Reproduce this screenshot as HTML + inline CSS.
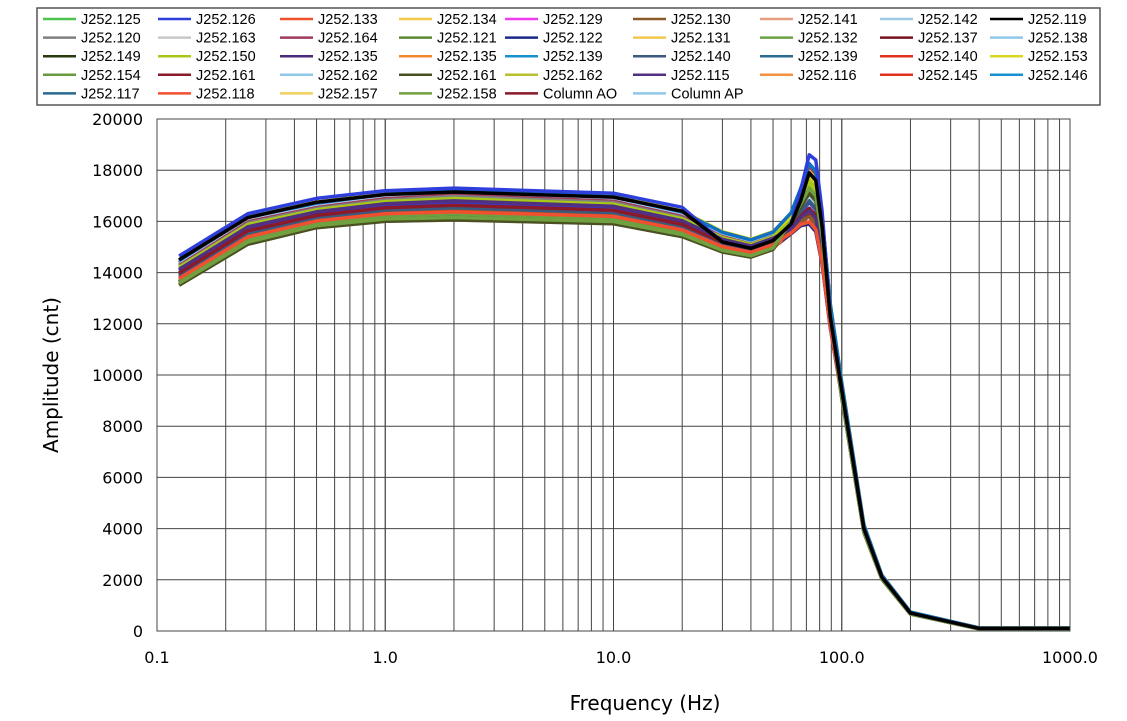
<!DOCTYPE html>
<html><head><meta charset="utf-8"><style>
body{margin:0;background:#fff;width:1127px;height:721px;overflow:hidden}
svg{display:block}
</style></head><body>
<svg id="s" width="1127" height="721" xmlns="http://www.w3.org/2000/svg"></svg>
<script>
const S=document.getElementById('s');
const L=157,R=1070,T=119,B=631;
const X=f=>L+(Math.log10(f)+1)*(R-L)/4;
const Y=v=>B-v*(B-T)/20000;
let h='';
h+=`<rect x="${L}" y="${T}" width="${R-L}" height="${B-T}" fill="#fff"/>`;
for(let d=-1;d<3;d++)for(let m=1;m<=10;m++){const x=X(m*Math.pow(10,d));h+=`<line x1="${x}" y1="${T}" x2="${x}" y2="${B}" stroke="#444" stroke-width="1"/>`;}
for(let v=0;v<=20000;v+=2000){h+=`<line x1="${L}" y1="${Y(v)}" x2="${R}" y2="${Y(v)}" stroke="#444" stroke-width="1"/>`;
h+=`<text x="143" y="${Y(v)+6}" text-anchor="end" font-family="DejaVu Sans,sans-serif" font-size="16">${v}</text>`;}
['0.1','1.0','10.0','100.0','1000.0'].forEach((t,i)=>{h+=`<text x="${X(Math.pow(10,i-1))}" y="663" text-anchor="middle" font-family="DejaVu Sans,sans-serif" font-size="16">${t}</text>`;});
h+=`<text x="645" y="710" text-anchor="middle" font-family="DejaVu Sans,sans-serif" font-size="20">Frequency  (Hz)</text>`;
h+=`<text transform="translate(58,375) rotate(-90)" text-anchor="middle" font-family="DejaVu Sans,sans-serif" font-size="20">Amplitude  (cnt)</text>`;
const cols=['#4fc34f','#2f3fdc','#f0502a','#f2c94a','#f03cf0','#8a5a2a','#e8a080','#9ccbe8','#000','#808080','#c8c8c8','#a03a5a','#5a8a30','#1a2a8a','#f2c850','#6aa040','#7a1020','#a8d0f0','#2a3a10','#a8c818','#4a2a7a','#f08a30','#1890d0','#3a5a80','#e03020','#d8d820','#6a9a40','#8a1a2a','#90c8e8','#4a5020','#b8c030','#503080','#f09040','#1070c0','#2a6a90','#f05030','#f0d060','#70a040'];
const F=[0.125,0.25,0.5,1,2,10,20,30,40,50,60,66,72,77,82,89,100,125,150,200,400,1000];
const base=[14000,15650,16250,16550,16650,16450,15900,15200,14950,15250,15900,16500,17000,16700,15200,12300,9400,4000,2100,700,100,100];
const spr=[500,550,500,550,600,550,500,400,350,350,450,800,1300,1300,1000,500,300,150,80,40,20,20];
const order=[];for(let i=0;i<38;i++)order.push(i);
order.sort((a,b)=>Math.sin(a*3.1)-Math.sin(b*3.1));
for(const i of order){
 const s=Math.sin(i*2.3+0.7);const p=Math.cos(i*1.7+0.3);
 let pts=F.map((f,k)=>{let sv=k>=10&&k<=15?(0.4*s+0.6*p):s;return X(f).toFixed(1)+','+Y(base[k]+sv*spr[k]).toFixed(1);}).join(' ');
 h+=`<polyline points="${pts}" fill="none" stroke="${cols[i]}" stroke-width="3.5" stroke-linejoin="round"/>`;
}
h+=`<polyline points="${F.map((f,k)=>X(f).toFixed(1)+','+Y(base[k]+(k<7?650:k>=11&&k<=14?[700,1600,1700,1200][k-11]:0)).toFixed(1)).join(' ')}" fill="none" stroke="#2f3fdc" stroke-width="3.5" stroke-linejoin="round"/>`;
h+=`<polyline points="${F.map((f,k)=>X(f).toFixed(1)+','+Y(base[k]+(k<7?500:k>=11&&k<=14?[300,900,900,600][k-11]:0)).toFixed(1)).join(' ')}" fill="none" stroke="#000" stroke-width="3.5" stroke-linejoin="round"/>`;
h+=`<rect x="${L}" y="${T}" width="${R-L}" height="${B-T}" fill="none" stroke="#444"/>`;
h+=`<rect x="37" y="8" width="1063" height="97" fill="#fff" stroke="#555" stroke-width="1.5"/>`;
const names=['J252.125','J252.126','J252.133','J252.134','J252.129','J252.130','J252.141','J252.142','J252.119','J252.120','J252.163','J252.164','J252.121','J252.122','J252.131','J252.132','J252.137','J252.138','J252.149','J252.150','J252.135','J252.135','J252.139','J252.140','J252.139','J252.140','J252.153','J252.154','J252.161','J252.162','J252.161','J252.162','J252.115','J252.116','J252.145','J252.146','J252.117','J252.118','J252.157','J252.158','Column AO','Column AP'];
const lc=['#4fc34f','#2f3fdc','#f0502a','#f2c94a','#f03cf0','#8a5a2a','#e8a080','#9ccbe8','#000','#808080','#c8c8c8','#a03a5a','#5a8a30','#1a2a8a','#f2c850','#6aa040','#7a1020','#90c8e8','#2a3a10','#a8c818','#4a2a7a','#f08a30','#1890d0','#3a5a80','#2a6a90','#e03020','#d8d820','#6a9a40','#8a1a2a','#90c8e8','#4a5020','#b8c030','#503080','#f09040','#e03020','#1890d0','#2a6a90','#f05030','#f0d060','#70a040','#8a1a2a','#90c8e8'];
const sx=[43,158,280,399,505,633,760,880,990];
names.forEach((n,i)=>{const c=i%9,r=Math.floor(i/9);const y=19+r*18.6;
h+=`<line x1="${sx[c]}" y1="${y}" x2="${sx[c]+33}" y2="${y}" stroke="${lc[i]}" stroke-width="2.5"/>`;
h+=`<text x="${sx[c]+38}" y="${y+5}" font-family="Liberation Sans,sans-serif" font-size="14.5">${n}</text>`;});
S.innerHTML=h;
</script>
</body></html>
